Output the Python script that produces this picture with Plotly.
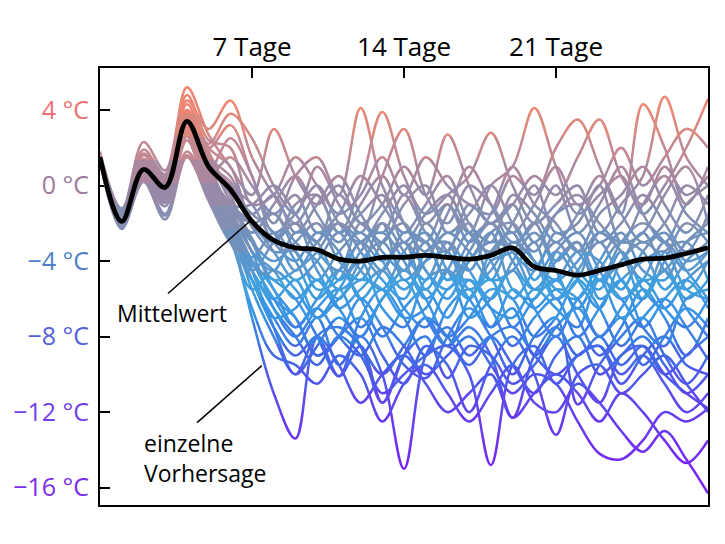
import plotly.graph_objects as go

# ---------------- data ----------------
DAYS = list(range(29))
X_TICKS = [7, 14, 21]
X_TICK_TEXT = ["7 Tage", "14 Tage", "21 Tage"]
Y_TICKS = [4, 0, -4, -8, -12, -16]
Y_TICK_TEXT = ["4 °C", "0 °C", "−4 °C", "−8 °C", "−12 °C", "−16 °C"]

MEAN = [1.5, -1.9, 0.85, -0.1, 3.4, 1.0, -0.2, -1.9, -2.9, -3.3, -3.4, -3.9, -4.0, -3.8, -3.8,
        -3.7, -3.8, -3.9, -3.7, -3.3, -4.3, -4.5, -4.75, -4.5, -4.2, -3.9, -3.85, -3.6, -3.3]

m01 = [1.7, -1.3, 2.3, 0.8, 5.2, 2.7, 1.0, -0.5, 3.0, 0.5, -1.0, 0.0, -2.0, -1.0, 1.0, -0.5, 2.7, 0.0, -2.0, -1.0, 0.5, -0.5, 1.5, 3.5, 0.5, -1.0, 1.0, -0.5, 0.5]
m02 = [1.5, -1.6, 1.6, 0.4, 4.5, 3.0, 4.5, 1.5, -0.5, -2.0, -0.5, -2.5, 0.0, 3.9, 0.5, -1.5, -0.5, 0.5, 2.8, 0.0, -2.0, -1.0, 0.0, -2.5, -1.0, 0.5, 4.7, 1.5, 0.0]
m03 = [1.4, -1.7, 1.2, -0.2, 3.8, 2.0, 3.2, 0.5, -2.0, 0.5, 1.5, -0.5, 4.1, 0.0, -2.0, -3.0, -1.0, -2.5, 0.0, 1.0, 4.1, 1.0, -1.5, -0.5, 0.5, -1.5, 0.0, 2.0, 4.6]
m04 = [1.6, -1.4, 1.9, 0.6, 4.8, 2.4, 2.0, -1.0, -0.5, 1.5, 0.0, -1.5, -0.5, 1.5, -0.5, 1.5, 0.0, -1.0, -1.5, 0.5, -0.5, 2.0, 3.5, 1.0, -1.5, 4.3, 2.0, -1.0, 1.0]
m05 = [1.8, -1.2, 1.4, 0.1, 4.0, 2.2, 3.8, 2.5, 0.0, -1.5, 1.0, -1.0, -2.5, 0.5, 3.0, -0.5, -2.0, 0.0, -1.0, -2.5, -1.0, 1.0, -1.0, 0.0, 2.0, 0.0, 1.5, 3.0, 2.0]
m06 = [1.5, -1.8, 0.9, -0.3, 3.5, 1.5, 0.5, -1.5, -0.5, -2.5, -1.0, 0.5, -1.5, -3.0, -1.0, 0.0, -2.5, -1.5, 0.0, -2.0, -3.5, -1.5, -0.5, -2.0, -3.0, -1.0, 0.5, -1.5, -2.5]
m07 = [1.3, -2.0, 0.5, -0.8, 2.8, 0.5, 1.5, 0.0, -1.5, -0.5, -2.5, -1.5, 0.5, -1.0, -2.5, -1.0, 0.5, -2.0, -3.0, -0.5, -1.5, -3.0, -1.5, 0.5, -1.5, -3.0, -2.0, 0.0, -1.0]
m08 = [1.6, -1.6, 1.3, 0.0, 3.9, 1.8, -0.5, -2.5, -1.0, 0.5, -1.5, -3.0, -1.0, 0.5, -2.0, -3.5, -1.5, 1.0, -1.0, -3.0, -2.0, 0.0, -2.5, -1.0, 1.0, -1.5, -3.0, -1.0, 0.0]
m09 = [1.4, -1.9, 0.7, -0.5, 3.2, 0.8, 2.5, 0.5, -2.5, -1.5, 0.0, -2.0, -3.0, -1.5, 0.0, -2.0, -1.0, -3.0, -1.5, 1.0, -1.0, -2.0, -3.5, -1.5, -0.5, 1.0, -1.0, -2.5, -0.5]
m10 = [1.5, -1.7, 1.1, 0.2, 3.6, 1.2, -1.0, -1.0, 0.0, -1.5, -3.0, -0.5, -2.0, -2.5, -0.5, -2.5, -3.5, -1.0, -2.0, -1.0, -3.0, -1.5, -1.0, -3.0, -2.0, -0.5, -2.0, -3.5, -1.5]
m11 = [1.7, -1.5, 1.7, 0.5, 4.3, 2.0, 1.0, -2.0, -3.0, -1.0, -0.5, -2.5, -1.5, -0.5, -3.0, -1.5, -0.5, -2.5, -3.5, -2.0, 0.0, -2.5, -2.0, 0.0, -3.0, -2.5, -0.5, 1.0, -2.0]
m12 = [1.5, -2.0, 0.6, -0.6, 3.0, 0.2, -1.5, -3.0, -4.0, -3.0, -2.0, -4.0, -5.0, -3.0, -2.0, -4.5, -5.5, -3.5, -2.0, -4.0, -5.5, -4.0, -3.0, -5.0, -4.0, -2.5, -4.5, -5.5, -4.0]
m13 = [1.4, -2.1, 0.4, -0.9, 2.6, -0.5, -2.0, -2.5, -1.5, -3.5, -5.0, -3.5, -2.5, -4.0, -5.5, -4.0, -2.5, -3.5, -5.0, -3.0, -4.0, -6.0, -4.5, -3.0, -5.0, -6.0, -3.5, -3.0, -5.0]
m14 = [1.6, -1.8, 1.0, 0.0, 3.4, 1.0, -0.5, -3.5, -4.5, -2.5, -3.0, -5.0, -3.5, -2.0, -3.5, -5.0, -3.0, -4.5, -6.0, -4.0, -2.5, -4.5, -6.5, -4.5, -3.0, -3.5, -5.5, -4.0, -3.0]
m15 = [1.5, -1.9, 0.8, -0.2, 3.1, 0.7, -1.0, -2.0, -3.5, -5.0, -4.0, -2.5, -4.5, -5.5, -3.5, -2.5, -4.5, -6.0, -3.5, -2.5, -5.0, -3.5, -5.0, -6.5, -4.0, -3.0, -4.0, -6.0, -5.0]
m16 = [1.3, -2.2, 0.3, -1.5, 1.8, -0.3, -2.5, -4.5, -3.0, -2.0, -4.5, -6.0, -4.0, -3.0, -4.5, -3.0, -5.0, -4.0, -2.5, -5.5, -6.0, -3.5, -2.5, -4.5, -6.0, -5.0, -3.0, -4.5, -6.0]
m17 = [1.6, -1.7, 1.2, 0.1, 3.7, 1.4, 0.0, -1.0, -3.0, -4.0, -2.5, -3.5, -6.0, -4.5, -3.0, -4.5, -6.0, -4.0, -3.0, -3.5, -5.5, -5.0, -3.5, -4.0, -5.5, -3.5, -2.5, -4.0, -3.5]
m18 = [1.5, -2.0, 0.7, -0.4, 3.3, 0.5, -1.2, -2.8, -5.0, -4.5, -3.5, -2.0, -3.5, -5.0, -6.0, -3.5, -3.0, -5.5, -4.5, -3.0, -4.0, -5.5, -6.0, -4.0, -2.5, -4.5, -5.0, -3.0, -2.5]
m19 = [1.4, -2.0, 0.5, -0.7, 2.9, 0.0, -1.8, -3.8, -2.5, -4.0, -6.0, -4.5, -3.0, -2.5, -4.0, -6.0, -4.5, -2.5, -4.0, -6.0, -4.5, -3.0, -4.5, -5.5, -3.5, -5.5, -6.5, -5.0, -4.0]
m20 = [1.5, -1.8, 0.9, -0.1, 3.5, 1.1, 0.2, -2.2, -3.5, -3.5, -5.5, -5.0, -3.0, -4.0, -3.0, -5.5, -3.5, -2.0, -5.0, -4.5, -3.0, -6.0, -5.0, -2.5, -3.5, -6.0, -4.0, -2.0, -3.0]
m21 = [1.7, -1.6, 1.4, 0.3, 4.0, 1.6, -0.8, -2.0, -1.5, -3.0, -4.0, -5.5, -4.5, -2.0, -5.0, -4.0, -3.5, -6.0, -4.0, -3.5, -2.0, -4.0, -3.0, -6.0, -5.0, -4.0, -3.5, -5.5, -6.0]
m22 = [1.6, -1.7, 1.1, 0.1, 3.6, 1.3, -0.3, -1.5, -2.5, -4.5, -3.0, -2.0, -3.0, -4.5, -2.5, -3.0, -5.0, -3.0, -2.0, -3.5, -4.5, -2.5, -3.5, -5.0, -3.0, -2.0, -3.0, -4.5, -3.5]
m23 = [1.4, -2.0, 0.5, -0.7, 2.8, 0.1, -1.5, -2.0, -3.0, -2.0, -3.5, -4.5, -2.0, -3.5, -4.5, -2.0, -3.5, -4.5, -2.5, -2.0, -4.0, -5.0, -4.0, -2.5, -3.5, -5.0, -4.5, -3.0, -2.0]
m24 = [1.4, -2.1, 0.5, -0.8, 2.7, -0.2, -2.5, -4.5, -6.0, -5.0, -7.0, -5.5, -4.0, -6.5, -7.5, -5.0, -4.5, -7.0, -6.0, -4.5, -6.5, -8.0, -6.0, -5.0, -7.0, -6.0, -4.5, -6.5, -8.0]
m25 = [1.5, -2.0, 0.6, -0.5, 3.0, 0.3, -2.0, -5.0, -7.0, -6.5, -5.0, -6.5, -8.0, -6.0, -5.0, -7.0, -8.5, -6.0, -5.0, -7.5, -6.0, -5.0, -7.0, -9.0, -7.5, -5.5, -7.0, -9.0, -7.0]
m26 = [1.3, -2.3, 0.2, -1.8, 1.5, -0.8, -3.0, -4.0, -5.5, -7.5, -6.0, -4.5, -6.0, -8.0, -6.5, -5.5, -7.0, -5.0, -6.5, -8.5, -7.0, -6.0, -8.0, -6.5, -5.0, -7.5, -8.5, -6.0, -5.5]
m27 = [1.6, -1.8, 1.0, -0.2, 3.5, 0.8, -1.5, -3.5, -6.5, -8.0, -6.5, -5.5, -7.5, -6.0, -4.5, -6.0, -8.0, -7.0, -5.5, -6.0, -8.0, -7.0, -5.0, -6.5, -8.5, -7.0, -6.0, -7.5, -9.2]
m28 = [1.5, -1.9, 0.7, -0.3, 3.2, 0.4, -1.8, -4.2, -5.0, -6.0, -8.0, -10.1, -7.0, -5.5, -7.0, -9.0, -6.5, -5.5, -7.5, -6.5, -9.0, -7.5, -6.5, -8.0, -7.0, -9.5, -8.0, -6.5, -7.5]
m29 = [1.4, -2.0, 0.5, -0.6, 2.8, 0.0, -2.2, -5.5, -8.0, -10.0, -8.5, -7.0, -8.5, -11.5, -9.0, -7.0, -8.5, -7.5, -9.0, -12.3, -9.0, -7.5, -9.0, -8.0, -9.5, -8.5, -10.0, -11.0, -11.8]
m30 = [1.5, -1.9, 0.8, -0.2, 3.3, 0.6, -1.0, -3.0, -5.5, -7.0, -9.0, -8.0, -6.0, -7.5, -9.5, -10.2, -8.0, -6.5, -8.0, -10.0, -8.0, -7.0, -11.6, -9.5, -8.0, -7.0, -9.0, -10.5, -9.0]
m31 = [1.5, -2.0, 0.6, -0.5, 3.0, 0.2, -2.5, -7.0, -11.0, -13.4, -8.0, -7.5, -8.5, -10.0, -8.5, -7.0, -8.0, -9.5, -8.0, -7.5, -9.0, -10.0, -9.0, -8.5, -10.5, -9.0, -8.0, -9.5, -10.0]
m32 = [1.4, -2.1, 0.4, -0.9, 2.6, -0.5, -3.0, -5.0, -7.0, -8.5, -7.0, -9.5, -8.0, -10.0, -15.0, -9.0, -7.5, -9.0, -8.0, -9.5, -11.0, -9.0, -8.0, -10.0, -9.0, -8.0, -9.5, -11.0, -10.0]
m33 = [1.5, -1.9, 0.7, -0.3, 3.1, 0.5, -2.0, -4.5, -6.5, -8.0, -9.5, -8.0, -9.0, -11.0, -10.0, -9.0, -8.5, -10.0, -14.8, -9.5, -8.5, -10.5, -9.0, -8.5, -10.0, -9.0, -10.5, -12.0, -11.0]
m34 = [1.6, -1.8, 0.9, -0.1, 3.4, 0.9, -1.5, -4.0, -6.0, -7.5, -6.5, -8.0, -9.0, -7.5, -8.5, -10.0, -9.0, -8.0, -9.5, -11.0, -10.0, -10.5, -12.5, -14.2, -14.5, -13.5, -12.0, -12.5, -11.8]
m35 = [1.5, -2.0, 0.6, -0.6, 2.9, 0.1, -2.3, -5.0, -7.5, -9.0, -8.0, -9.5, -11.5, -10.0, -9.0, -10.5, -12.0, -11.0, -10.0, -12.3, -11.0, -10.0, -11.0, -12.5, -11.0, -12.0, -13.5, -14.7, -13.5]
m36 = [1.4, -2.1, 0.3, -1.6, 1.6, -0.6, -2.8, -6.5, -9.0, -9.5, -10.5, -9.0, -10.0, -12.5, -10.5, -9.5, -11.0, -12.5, -11.0, -9.5, -11.5, -12.0, -10.5, -11.5, -13.0, -14.1, -13.0, -14.5, -16.3]
m37 = [1.5, -1.9, 0.8, -0.3, 3.2, 0.6, -1.5, -4.5, -7.5, -10.0, -8.0, -10.1, -8.5, -11.5, -9.0, -8.0, -10.2, -8.5, -9.0, -10.5, -9.5, -8.0, -10.0, -11.5, -9.0, -8.5, -10.0, -9.0, -8.0]
m38 = [1.5, -2.0, 0.7, -0.4, 3.0, 0.4, -2.0, -4.0, -6.0, -7.0, -9.0, -8.0, -7.0, -9.0, -10.5, -8.5, -9.5, -12.0, -9.5, -8.0, -10.0, -13.2, -10.0, -9.5, -11.0, -10.0, -9.0, -10.5, -12.0]
m39 = [1.5, -1.9, 0.8, -0.2, 3.3, 0.7, -1.2, -3.5, -4.5, -6.0, -5.0, -6.5, -5.5, -4.5, -6.5, -7.5, -5.5, -5.0, -6.5, -7.0, -5.5, -6.5, -7.5, -5.0, -6.0, -7.5, -6.0, -5.0, -6.5]
m40 = [1.3, -2.2, 0.2, -1.1, 2.4, -0.7, -2.7, -5.5, -4.5, -5.5, -7.0, -6.0, -5.0, -5.5, -7.0, -6.5, -4.5, -6.0, -7.5, -5.5, -6.5, -5.5, -6.0, -8.0, -6.5, -5.0, -6.5, -7.5, -6.0]

MEMBERS = [m01, m02, m03, m04, m05, m06, m07, m08, m09, m10, m11, m12, m13, m14, m15, m16, m17, m18, m19, m20,
           m21, m22, m23, m24, m25, m26, m27, m28, m29, m30, m31, m32, m33, m34, m35, m36, m37, m38, m39, m40]

# ---------------- style ----------------
# the page has an 8px body margin, so the figure is a little smaller than the window
W, H = 717, 536
ML, MR, MT, MB = 92, 17, 60, 39
PLOT_H = H - MT - MB  # 437
YMAX, YMIN = 6.225, -16.92
FONT = "Open Sans"

GRADIENT = [  # value -> colour of the lines
    (6.5, (248, 134, 104)), (4.5, (240, 134, 114)), (3.0, (216, 136, 126)), (1.5, (186, 136, 154)),
    (0.0, (158, 136, 164)), (-2.0, (128, 144, 180)), (-3.5, (104, 146, 194)), (-5.0, (68, 158, 220)),
    (-6.0, (58, 158, 226)), (-7.5, (58, 132, 228)), (-9.0, (68, 104, 230)), (-11.0, (90, 76, 236)),
    (-13.0, (108, 54, 240)), (-15.0, (120, 38, 242)), (-17.5, (124, 30, 242)),
]
TICK_COLORS = ["#eb6f73", "#9b7b9b", "#4f7fc4", "#5560d8", "#7040e8", "#7a2ee8"]


def grad_color(v):
    if v >= GRADIENT[0][0]:
        c = GRADIENT[0][1]
    elif v <= GRADIENT[-1][0]:
        c = GRADIENT[-1][1]
    else:
        for (v0, c0), (v1, c1) in zip(GRADIENT[:-1], GRADIENT[1:]):
            if v1 <= v <= v0:
                t = (v0 - v) / (v0 - v1)
                c = tuple(round(a + (b - a) * t) for a, b in zip(c0, c1))
                break
    return "rgb(%d,%d,%d)" % c


# all members joined into one path list, separated by gaps
xs, ys = [], []
for mem in MEMBERS:
    xs += DAYS + [None]
    ys += mem + [None]

fig = go.Figure()
layout_axes = {}

STRIP = 23
N = PLOT_H // STRIP  # 19 horizontal colour strips
span = YMAX - YMIN
for k in range(N):
    o0, o1 = k * STRIP, (k + 1) * STRIP
    vhi = YMAX - o0 / PLOT_H * span
    vlo = YMAX - o1 / PLOT_H * span
    name = "yaxis%d" % (k + 2)
    layout_axes[name] = dict(domain=[1 - o1 / PLOT_H, 1 - o0 / PLOT_H], range=[vlo, vhi],
                             visible=False, anchor="x", fixedrange=True, automargin=False)
    fig.add_trace(go.Scatter(
        x=xs, y=ys, mode="lines", xaxis="x", yaxis="y%d" % (k + 2),
        line=dict(color=grad_color((vhi + vlo) / 2), width=2.5, shape="spline", smoothing=1, simplify=False),
        connectgaps=False, hoverinfo="skip", showlegend=False))

mean_ax = N + 2
layout_axes["yaxis%d" % mean_ax] = dict(domain=[0, 1], range=[YMIN, YMAX], visible=False,
                                        anchor="x", fixedrange=True, automargin=False)
fig.add_trace(go.Scatter(
    x=DAYS, y=MEAN, mode="lines", xaxis="x", yaxis="y%d" % mean_ax,
    line=dict(color="black", width=4.8, shape="spline", smoothing=1, simplify=False),
    hoverinfo="skip", showlegend=False))

fig.update_layout(
    width=W, height=H,
    margin=dict(l=ML, r=MR, t=MT, b=MB, autoexpand=False),
    paper_bgcolor="white", plot_bgcolor="rgba(0,0,0,0)",
    font=dict(family=FONT, size=24, color="black"),
    showlegend=False,
    xaxis=dict(range=[0, 28], side="top", anchor="y", tickvals=X_TICKS, ticktext=X_TICK_TEXT,
               ticks="inside", ticklen=10, tickwidth=2, tickcolor="black",
               showline=True, linewidth=2, linecolor="black", mirror=True,
               showgrid=False, zeroline=False, fixedrange=True, automargin=False,
               tickfont=dict(family=FONT, size=26, color="black")),
    yaxis=dict(range=[YMIN, YMAX], domain=[0, 1], tickvals=Y_TICKS,
               ticktext=['<span style="color:%s">%s</span>' % (c, t) for c, t in zip(TICK_COLORS, Y_TICK_TEXT)],
               ticks="inside", ticklen=10, tickwidth=2, tickcolor="black",
               showline=True, linewidth=2, linecolor="black", mirror=True,
               showgrid=False, zeroline=False, fixedrange=True, ticklabelstandoff=4, automargin=False,
               tickfont=dict(family=FONT, size=25)),
    **layout_axes,
)

# annotation pointer lines
fig.add_shape(type="line", xref="x", yref="y", x0=3.13, y0=-5.72, x1=6.94, y1=-1.85,
              line=dict(color="black", width=1.5))
fig.add_shape(type="line", xref="x", yref="y", x0=4.47, y0=-12.56, x1=7.45, y1=-9.54,
              line=dict(color="black", width=1.5))

fig.add_annotation(x=3.32, y=-6.73, xref="x", yref="y", text="Mittelwert", showarrow=False,
                   xanchor="center", yanchor="middle", font=dict(family=FONT, size=23, color="black"))
fig.add_annotation(x=1.95, y=-12.7, xref="x", yref="y", text="einzelne<br>Vorhersage", showarrow=False,
                   xanchor="left", yanchor="top", align="left", font=dict(family=FONT, size=23, color="black"))

fig.write_html("out.html")
